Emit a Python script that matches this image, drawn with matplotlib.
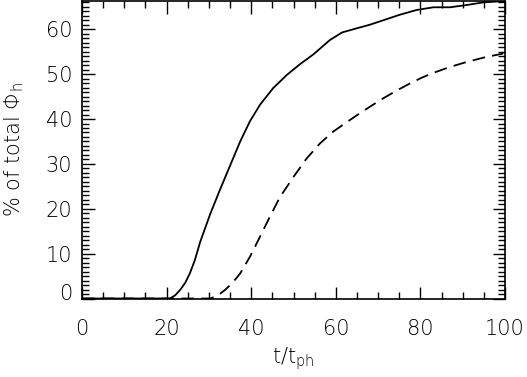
import numpy as np
import matplotlib
matplotlib.use("Agg")
import matplotlib.pyplot as plt
from matplotlib.ticker import MultipleLocator
from matplotlib.transforms import ScaledTranslation

# solid curve
t_solid = [0, 10, 20, 20.8, 22.0, 23.2, 24.4, 25.5, 26.7, 27.9, 30.3, 32.6, 35.0,
           37.4, 39.7, 42.1, 45.2, 48.4, 51.5, 54.7, 58.6, 61.5, 64.9, 68.0,
           71.2, 75.0, 79.1, 83.1, 87.0, 90.9, 94.9, 100]
p_solid = [0, 0, 0, 0, 0.7, 1.9, 3.5, 5.6, 8.6, 12.5, 18.8, 24.2, 29.6,
           35.0, 39.5, 43.2, 46.9, 49.8, 52.2, 54.4, 57.6, 59.3, 60.2, 61.0,
           62.0, 63.2, 64.3, 64.9, 64.9, 65.4, 66.0, 66.3]

# dashed curve
t_dash = [0, 10, 20, 30.3, 32.0, 33.8, 35.6, 37.4, 39.7, 42.1, 44.4, 46.8,
          50.0, 53.1, 56.3, 59.4, 62.6, 65.7, 68.5, 71.2, 74.3, 77.5, 80.3,
          83.1, 87.0, 90.9, 95.0, 99.6]
p_dash = [0, 0, 0, 0, 0.6, 1.9, 3.5, 5.6, 9.3, 13.8, 18.2, 22.6,
          27.1, 31.2, 34.6, 37.2, 39.3, 41.3, 43.0, 44.6, 46.3, 47.9, 49.2,
          50.3, 51.6, 52.7, 53.7, 54.6]

plt.rcParams['font.family'] = ['DejaVu Sans']
plt.rcParams['font.weight'] = 'light'
plt.rcParams['axes.labelweight'] = 'light'
plt.rcParams['mathtext.fontset'] = 'custom'
plt.rcParams['mathtext.rm'] = 'DejaVu Sans:light'
plt.rcParams['mathtext.it'] = 'DejaVu Sans:light'

fig = plt.figure(figsize=(5.27, 3.77), dpi=100)
ax = fig.add_axes([82/527, 1 - 298.5/377, 423/527, 297.5/377])

ax.plot(t_solid, p_solid, '-k', linewidth=1.3)
ax.plot(t_dash, p_dash, '--k', linewidth=1.3, dashes=(7, 4))

ax.set_xlim(0, 100)
ax.set_ylim(0, 66.3)
ax.set_xticks([0, 20, 40, 60, 80, 100])
ax.set_yticks([0, 10, 20, 30, 40, 50, 60])
ax.xaxis.set_minor_locator(MultipleLocator(5))
ax.yaxis.set_minor_locator(MultipleLocator(1))

ax.tick_params(which='both', direction='in', top=True, right=True,
               labelsize=15, width=1.0, colors='black')
ax.tick_params(axis='x', which='major', length=9, pad=15)
ax.tick_params(axis='y', which='major', length=9, pad=7)
ax.tick_params(which='minor', length=5)
for s in ax.spines.values():
    s.set_linewidth(1.2)

ax.set_xlabel(r'$\mathregular{t/t_{ph}}$', fontsize=15, labelpad=4,
              fontweight='light')
ax.set_ylabel(r'% of total $\mathregular{\Phi_h}$', fontsize=15, labelpad=14,
              fontweight='light')

# the "0" label sits a little above the axis line
lab0 = ax.yaxis.get_major_ticks()[0].label1
lab0.set_transform(lab0.get_transform() + ScaledTranslation(0, 7/100, fig.dpi_scale_trans))

fig.savefig('out.png', dpi=100)
